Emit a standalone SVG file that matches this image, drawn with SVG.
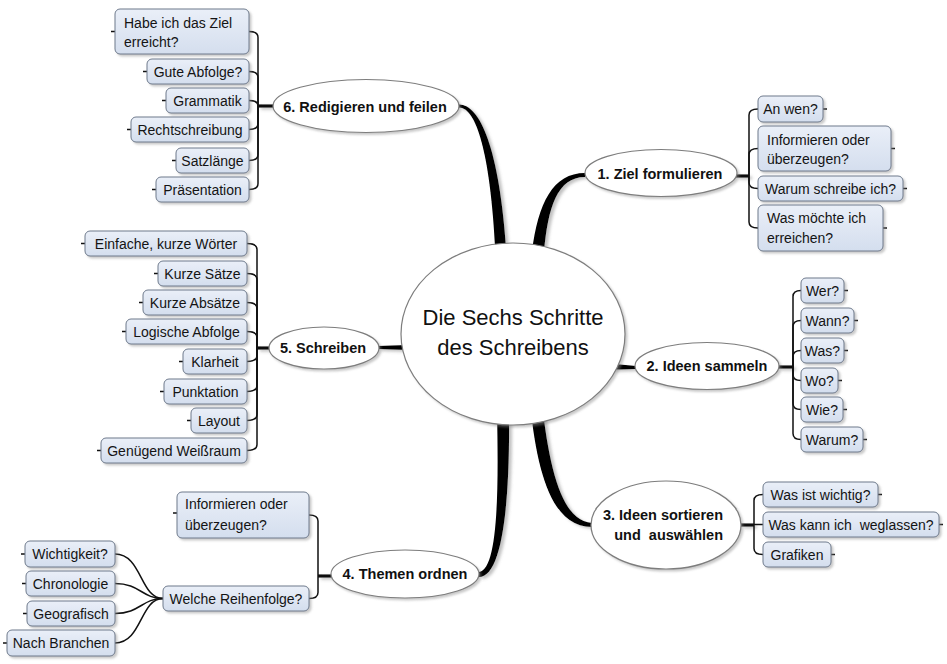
<svg xmlns="http://www.w3.org/2000/svg" width="947" height="664" viewBox="0 0 947 664">
<defs>
<linearGradient id="bg" x1="0" y1="0" x2="0" y2="1">
<stop offset="0" stop-color="#eaeff8"/>
<stop offset="1" stop-color="#d4deee"/>
</linearGradient>
<filter id="sh" x="-20%" y="-20%" width="140%" height="160%">
<feDropShadow dx="2" dy="2" stdDeviation="1.2" flood-color="#888" flood-opacity="0.45"/>
</filter>
<filter id="lsh" x="-30%" y="-30%" width="160%" height="160%">
<feDropShadow dx="3" dy="2" stdDeviation="1.5" flood-color="#777" flood-opacity="0.45"/>
</filter>
<style>
.box{fill:url(#bg);stroke:#6e7a8c;stroke-width:1;filter:url(#sh)}
.ell{fill:#fff;stroke:#7d7d7d;stroke-width:1.2;filter:url(#sh)}
.t{font-family:"Liberation Sans",Arial,sans-serif;font-size:14px;fill:#141414}
.c{text-anchor:middle}
.b{font-family:"Liberation Sans",Arial,sans-serif;font-size:14.5px;font-weight:bold;fill:#111;text-anchor:middle}
.main{font-family:"Liberation Sans",Arial,sans-serif;font-size:22px;fill:#111;text-anchor:middle}
.cn{fill:none;stroke:#111;stroke-width:1.5}
.j{fill:none;stroke:#111;stroke-width:3.2}
.st{fill:none;stroke:#111;stroke-width:1.5}
.thick{fill:#000}
</style>
</defs>
<rect width="947" height="664" fill="#fff"/>

<g id="connectors">
<g filter="url(#lsh)">
<path class="thick" d="M459 104.5 C480 104.5 499.5 148 506.5 252 L495.5 252 C490.5 152 476 107.5 459 107.5 Z"/>
<path class="thick" d="M585 173 C553 173 538 203 532 252 L544 252 C548 208 557 177 585 177 Z"/>
<path class="thick" d="M531 412 C539 484 556 527 592 527 L592 523 C564 521 551 477 543 412 Z"/>
<path class="thick" d="M497 412 C499 500 497 570 479 572 L479 577 C503 577 510 500 509 412 Z"/>
<path class="thick" d="M610 364.5 L620 364.5 L636 366 L636 369 L620 369.5 L610 369.5 Z"/>
<path class="thick" d="M378 346 L392 345.5 L408 345 L408 350 L392 349.5 L378 349 Z"/>
<path class="j" d="M258 106 L274 106"/>
<path class="j" d="M257 348 L270 348"/>
<path class="j" d="M736 176 L749 176"/>
<path class="j" d="M778 367 L793 367"/>
<path class="j" d="M741 525 L754 525"/>
<path class="j" d="M318 576 L332 576"/>
</g>
<path class="cn" d="M249 31.5 Q258 31.5 258 37.5 L258 106"/>
<path class="cn" d="M249 71.5 Q258 71.5 258 77.5 L258 106"/>
<path class="cn" d="M249 100.5 Q258 100.5 258 106"/>
<path class="cn" d="M249 129.5 Q258 129.5 258 123.5 L258 106"/>
<path class="cn" d="M249 160.5 Q258 160.5 258 154.5 L258 106"/>
<path class="cn" d="M249 189.5 Q258 189.5 258 183.5 L258 106"/>

<path class="cn" d="M247 243.5 Q257 243.5 257 249.5 L257 348"/>
<path class="cn" d="M247 273.5 Q257 273.5 257 279.5 L257 348"/>
<path class="cn" d="M247 302.5 Q257 302.5 257 308.5 L257 348"/>
<path class="cn" d="M247 331.5 Q257 331.5 257 337.5 L257 348"/>
<path class="cn" d="M247 361.5 Q257 361.5 257 355.5 L257 348"/>
<path class="cn" d="M247 391.5 Q257 391.5 257 385.5 L257 348"/>
<path class="cn" d="M247 420.5 Q257 420.5 257 414.5 L257 348"/>
<path class="cn" d="M247 450.5 Q257 450.5 257 444.5 L257 348"/>

<path class="cn" d="M758 109 Q749 109 749 115 L749 176"/>
<path class="cn" d="M758 148.5 Q749 148.5 749 154.5 L749 176"/>
<path class="cn" d="M758 188.5 Q749 188.5 749 182.5 L749 176"/>
<path class="cn" d="M758 228 Q749 228 749 222 L749 176"/>

<path class="cn" d="M801 290.5 Q793 290.5 793 296.5 L793 367"/>
<path class="cn" d="M801 320.5 Q793 320.5 793 326.5 L793 367"/>
<path class="cn" d="M801 350.5 Q793 350.5 793 356.5 L793 367"/>
<path class="cn" d="M801 380.5 Q793 380.5 793 374.5 L793 367"/>
<path class="cn" d="M801 409.5 Q793 409.5 793 403.5 L793 367"/>
<path class="cn" d="M801 439.5 Q793 439.5 793 433.5 L793 367"/>

<path class="cn" d="M763 494.5 Q754 494.5 754 500.5 L754 525"/>
<path class="cn" d="M763 524.5 L754 524.5"/>
<path class="cn" d="M763 554.5 Q754 554.5 754 548.5 L754 525"/>

<path class="cn" d="M309 515 Q318 515 318 521 L318 576"/>
<path class="cn" d="M309 598.5 Q318 598.5 318 592.5 L318 576"/>

<path class="cn" d="M115 554 C142 554 140 598.5 163 598.5"/>
<path class="cn" d="M115 583.5 C140 583.5 142 598.5 163 598.5"/>
<path class="cn" d="M115 613.5 C140 613.5 142 598.5 163 598.5"/>
<path class="cn" d="M115 643 C142 643 140 598.5 163 598.5"/>

<g class="st">
<path d="M111 31.5 H115 M143 71.5 H147 M162 100.5 H166 M127 129.5 H131 M172 160.5 H176 M152 189.5 H156"/>
<path d="M81 243.5 H85 M154 273.5 H158 M139 302.5 H143 M122 331.5 H126 M179 361.5 H183 M160 391.5 H164 M187 420.5 H191 M97 450.5 H101"/>
<path d="M823 109 H827 M891 148.5 H895 M903 188.5 H907 M883 228 H887"/>
<path d="M844 290.5 H848 M854 320.5 H858 M844 350.5 H848 M838 380.5 H842 M843 409.5 H847 M863 439.5 H867"/>
<path d="M878 494.5 H882 M939 524.5 H943 M831 554.5 H835"/>
<path d="M173 513 H177 M21 554 H25 M22 583.5 H26 M23 613.5 H27 M3 643 H7"/>
</g>
</g>

<g id="center">
<ellipse class="ell" cx="513" cy="334" rx="112" ry="91"/>
<text class="main" x="513" y="325">Die Sechs Schritte</text>
<text class="main" x="513" y="355">des Schreibens</text>
</g>

<g id="n1">
<ellipse class="ell" cx="661" cy="173" rx="76" ry="23.5"/>
<text class="b" x="660" y="179">1. Ziel formulieren</text>
</g>
<g id="n2">
<ellipse class="ell" cx="707" cy="366" rx="72" ry="23.5"/>
<text class="b" x="707" y="371">2. Ideen sammeln</text>
</g>
<g id="n3">
<ellipse class="ell" cx="666" cy="525" rx="75" ry="44"/>
<text class="b" x="723" y="520" style="text-anchor:end">3. Ideen sortieren</text>
<text class="b" x="723" y="540" style="text-anchor:end;white-space:pre">und  auswählen</text>
</g>
<g id="n4">
<ellipse class="ell" cx="405" cy="574" rx="74" ry="24"/>
<text class="b" x="405" y="579">4. Themen ordnen</text>
</g>
<g id="n5">
<ellipse class="ell" cx="324" cy="348" rx="55" ry="21"/>
<text class="b" x="323" y="353">5. Schreiben</text>
</g>
<g id="n6">
<ellipse class="ell" cx="366" cy="106" rx="93" ry="26.5"/>
<text class="b" x="365" y="112">6. Redigieren und feilen</text>
</g>

<g id="n6-children">
<g id="n6a"><rect class="box" x="115" y="9" width="134" height="45" rx="5"/><text class="t" x="124" y="28">Habe ich das Ziel</text><text class="t" x="124" y="47">erreicht?</text></g>
<g id="n6b"><rect class="box" x="147" y="59" width="102" height="25" rx="5"/><text class="t c" x="198" y="77">Gute Abfolge?</text></g>
<g id="n6c"><rect class="box" x="166" y="88" width="83" height="25" rx="5"/><text class="t c" x="207.5" y="106">Grammatik</text></g>
<g id="n6d"><rect class="box" x="131" y="117" width="118" height="25" rx="5"/><text class="t c" x="190" y="135">Rechtschreibung</text></g>
<g id="n6e"><rect class="box" x="176" y="148" width="73" height="25" rx="5"/><text class="t c" x="212.5" y="166">Satzlänge</text></g>
<g id="n6f"><rect class="box" x="156" y="177" width="93" height="25" rx="5"/><text class="t c" x="202.5" y="195">Präsentation</text></g>
</g>

<g id="n5-children">
<g id="n5a"><rect class="box" x="85" y="231" width="162" height="25" rx="5"/><text class="t c" x="166" y="249">Einfache, kurze Wörter</text></g>
<g id="n5b"><rect class="box" x="158" y="261" width="89" height="25" rx="5"/><text class="t c" x="202.5" y="279">Kurze Sätze</text></g>
<g id="n5c"><rect class="box" x="143" y="290" width="104" height="25" rx="5"/><text class="t c" x="195" y="308">Kurze Absätze</text></g>
<g id="n5d"><rect class="box" x="126" y="319" width="121" height="25" rx="5"/><text class="t c" x="186.5" y="337">Logische Abfolge</text></g>
<g id="n5e"><rect class="box" x="183" y="349" width="64" height="25" rx="5"/><text class="t c" x="215" y="367">Klarheit</text></g>
<g id="n5f"><rect class="box" x="164" y="379" width="83" height="25" rx="5"/><text class="t c" x="205.5" y="397">Punktation</text></g>
<g id="n5g"><rect class="box" x="191" y="408" width="56" height="25" rx="5"/><text class="t c" x="219" y="426">Layout</text></g>
<g id="n5h"><rect class="box" x="101" y="438" width="146" height="25" rx="5"/><text class="t c" x="174" y="456">Genügend Weißraum</text></g>
</g>

<g id="n1-children">
<g id="n1a"><rect class="box" x="758" y="96" width="65" height="26" rx="5"/><text class="t c" x="790.5" y="114">An wen?</text></g>
<g id="n1b"><rect class="box" x="758" y="126" width="133" height="45" rx="5"/><text class="t" x="767" y="145">Informieren oder</text><text class="t" x="767" y="164">überzeugen?</text></g>
<g id="n1c"><rect class="box" x="758" y="176" width="145" height="25" rx="5"/><text class="t c" x="830.5" y="194">Warum schreibe ich?</text></g>
<g id="n1d"><rect class="box" x="758" y="205" width="125" height="46" rx="5"/><text class="t" x="767" y="223">Was möchte ich</text><text class="t" x="767" y="243">erreichen?</text></g>
</g>

<g id="n2-children">
<g id="n2a"><rect class="box" x="801" y="278" width="43" height="25" rx="5"/><text class="t c" x="822.5" y="296">Wer?</text></g>
<g id="n2b"><rect class="box" x="801" y="308" width="53" height="25" rx="5"/><text class="t c" x="827.5" y="326">Wann?</text></g>
<g id="n2c"><rect class="box" x="801" y="338" width="43" height="25" rx="5"/><text class="t c" x="822.5" y="356">Was?</text></g>
<g id="n2d"><rect class="box" x="801" y="368" width="37" height="25" rx="5"/><text class="t c" x="819.5" y="386">Wo?</text></g>
<g id="n2e"><rect class="box" x="801" y="397" width="42" height="25" rx="5"/><text class="t c" x="822" y="415">Wie?</text></g>
<g id="n2f"><rect class="box" x="801" y="427" width="62" height="25" rx="5"/><text class="t c" x="832" y="445">Warum?</text></g>
</g>

<g id="n3-children">
<g id="n3a"><rect class="box" x="763" y="482" width="115" height="25" rx="5"/><text class="t c" x="820.5" y="500">Was ist wichtig?</text></g>
<g id="n3b"><rect class="box" x="763" y="512" width="176" height="25" rx="5"/><text class="t c" x="851" y="530" style="white-space:pre">Was kann ich  weglassen?</text></g>
<g id="n3c"><rect class="box" x="763" y="542" width="68" height="25" rx="5"/><text class="t c" x="797" y="560">Grafiken</text></g>
</g>

<g id="n4-children">
<g id="n4a"><rect class="box" x="177" y="492" width="132" height="46" rx="5"/><text class="t" x="185" y="509">Informieren oder</text><text class="t" x="185" y="530">überzeugen?</text></g>
<g id="n4b"><rect class="box" x="163" y="586" width="146" height="25" rx="5"/><text class="t c" x="236" y="604">Welche Reihenfolge?</text></g>
<g id="n4b1"><rect class="box" x="25" y="541" width="90" height="26" rx="5"/><text class="t c" x="70" y="559">Wichtigkeit?</text></g>
<g id="n4b2"><rect class="box" x="26" y="571" width="89" height="25" rx="5"/><text class="t c" x="70.5" y="589">Chronologie</text></g>
<g id="n4b3"><rect class="box" x="27" y="601" width="88" height="25" rx="5"/><text class="t c" x="71" y="619">Geografisch</text></g>
<g id="n4b4"><rect class="box" x="7" y="630" width="108" height="26" rx="5"/><text class="t c" x="61" y="648">Nach Branchen</text></g>
</g>
</svg>
